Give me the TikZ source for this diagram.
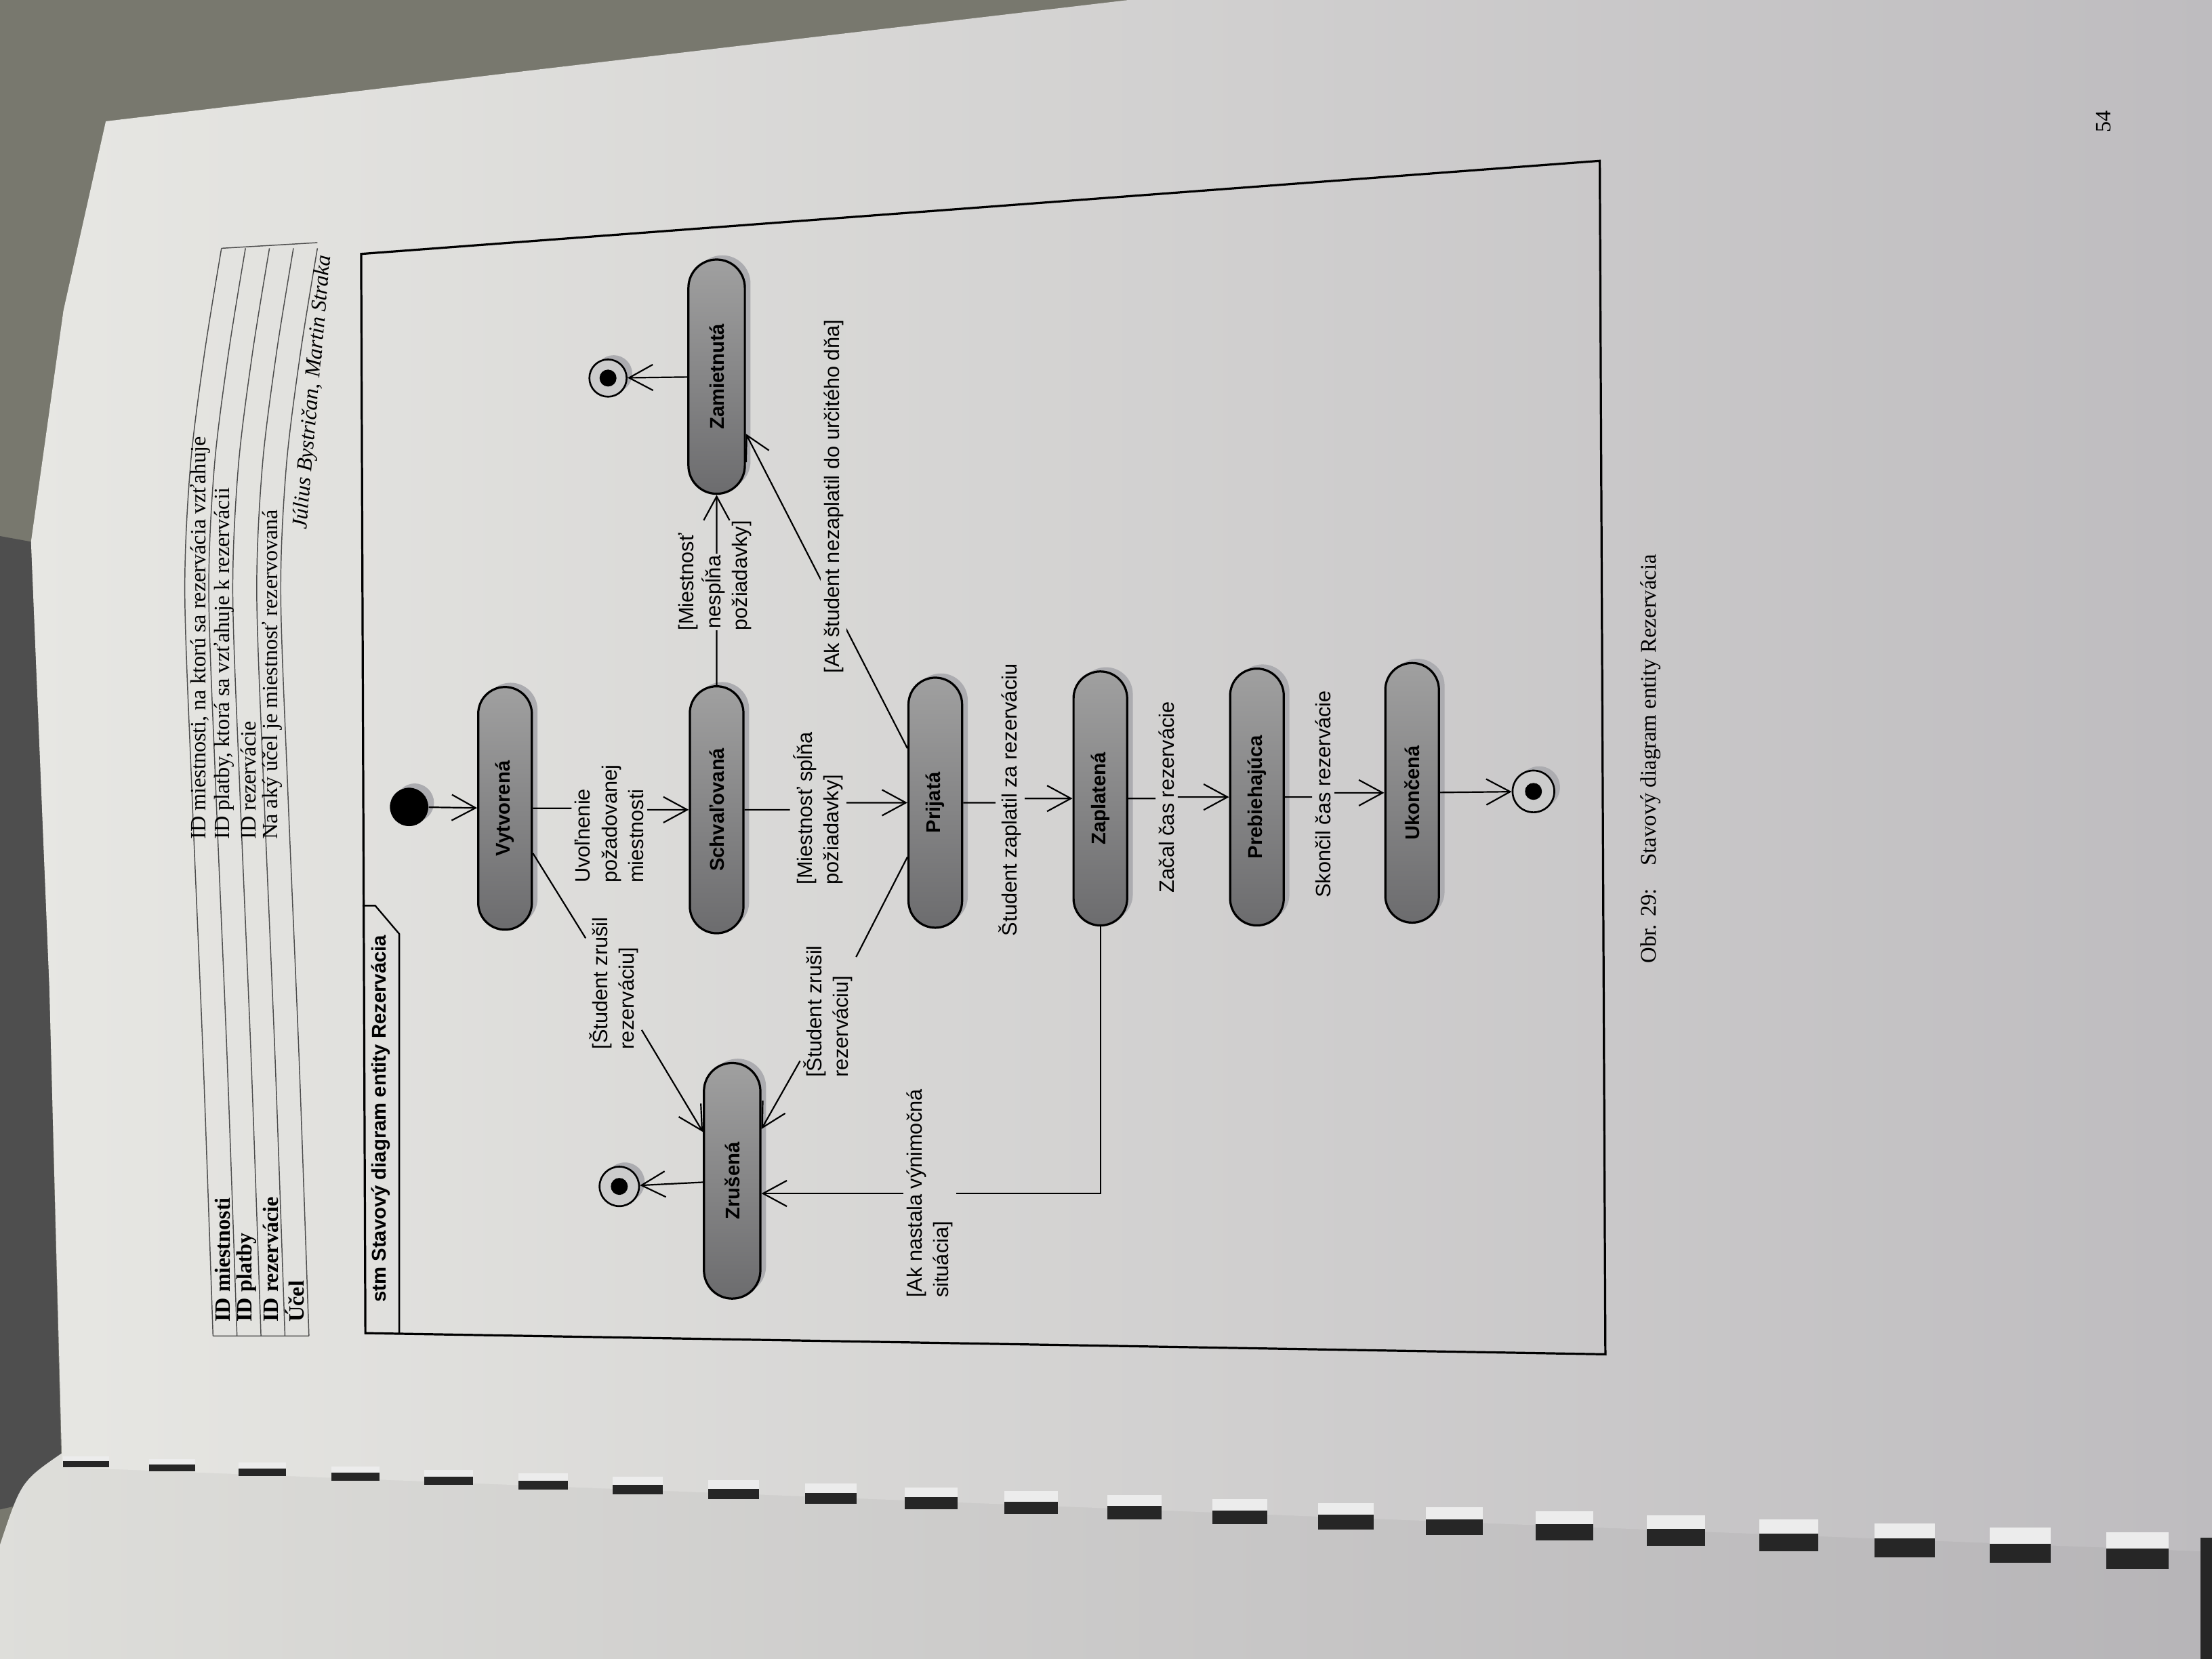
\documentclass[tikz,border=0pt]{standalone}
\usepackage{fontspec}
\setmainfont{Liberation Serif}
\newfontfamily\umlfont{Liberation Sans}
\usetikzlibrary{arrows.meta,shapes.misc,shadows}

\definecolor{carpet}{RGB}{120,120,110}
\definecolor{cover}{RGB}{78,78,78}
\definecolor{pageL}{RGB}{231,231,227}
\definecolor{pageR}{RGB}{190,188,191}
\definecolor{stateL}{RGB}{160,160,160}
\definecolor{stateD}{RGB}{108,108,110}
\definecolor{shade}{RGB}{172,172,176}
\colorlet{paperA}{pageR!32!pageL}
\colorlet{paperB}{pageR!38!pageL}
\setlength\fboxsep{1pt}

\begin{document}
\begin{tikzpicture}[x=0.025cm, y=-0.025cm,
  shad/.style={drop shadow={shadow xshift=0.1cm, shadow yshift=0.075cm, fill=shade, opacity=1}},
  stat/.style={rounded rectangle, draw, line width=1.1pt, rotate=90, minimum width=4.45cm,
    minimum height=0.95cm, inner sep=0pt, top color=stateL, bottom color=stateD, shad,
    font=\umlfont\bfseries\fontsize{10}{12}\selectfont},
  init/.style={circle, fill=black, minimum size=0.68cm, inner sep=0pt, shad},
  final/.style={circle, draw, line width=0.9pt, fill=gray!40, minimum size=0.7cm, inner sep=0pt, shad,
    path picture={\fill[black] (path picture bounding box.center) circle (0.15cm);}},
  lbl/.style={rotate=90, align=left, inner sep=1.5pt, font=\umlfont\fontsize{10.5}{13.5}\selectfont},
  arr/.style={-{Straight Barb[length=12pt,width=13pt]}},
  conn/.style={line width=0.75pt}]
\useasboundingbox (0,0) rectangle (1568,1176);

% photo: carpet, cover, pages, rings
\fill[carpet] (0,0) rectangle (1568,1176);
\fill[cover] (0,380) -- (22,384) -- (35,700) -- (44,1060) -- (0,1070) -- cycle;
\shade[left color=pageL!96!black, right color=pageR!96!black] (0,1095) .. controls (15,1050) .. (44,1030)
  -- (1568,1090) -- (1568,1176) -- (0,1176) -- cycle;
\shade[left color=pageL, right color=pageR] (75,86) -- (384,49) -- (800,0) -- (1568,0) -- (1568,1100)
  -- (44,1040) -- (35,700) -- (22,384) -- (45,220) -- cycle;
\foreach \rx in {61,122,186,252,318,385,452,520,589,660,731,804,879,954,1031,1109,1188,1268,1350,1432,1515} {
  \pgfmathsetmacro\ry{1030+\rx*0.037}
  \pgfmathsetmacro\rh{7+\rx*0.0125}
  \pgfmathsetmacro\rw{16+\rx*0.004}
  \fill[gray!15] (\rx-\rw,\ry) rectangle (\rx+\rw,\ry+\rh*0.45);
  \fill[black!85] (\rx-\rw,\ry+\rh*0.45) rectangle (\rx+\rw,\ry+\rh);
}
\fill[black!85] (1560,1090) rectangle (1568,1176);

% table at top of page
\foreach \k in {0,...,4}
  \draw[black!70, line width=0.5pt, shift={(\k*17,0)}] plot[smooth] coordinates
    {(151,947) (144,750) (136,560) (131,420) (135,330) (145,250) (157,176)};
\draw[black!70, line width=0.5pt] (151,947) -- (219,947) (157,176) -- (225,172);
\node[rotate=90, anchor=west, font=\bfseries\fontsize{11}{13}\selectfont] (r1) at (158,942) {ID miestnosti};
\node[rotate=90, anchor=west, font=\bfseries\fontsize{11}{13}\selectfont] (r2) at (175,942) {ID platby};
\node[rotate=90, anchor=west, font=\bfseries\fontsize{11}{13}\selectfont] (r3) at (192,942) {ID rezervácie};
\node[rotate=90, anchor=west, font=\bfseries\fontsize{11}{13}\selectfont] (r4) at (209,942) {Účel};
\node[rotate=90, anchor=west, font=\fontsize{11}{13}\selectfont] (v1) at (142,600) {ID miestnosti, na ktorú sa rezervácia vzťahuje};
\node[rotate=90, anchor=west, font=\fontsize{11}{13}\selectfont] (v2) at (159,600) {ID platby, ktorá sa vzťahuje k rezervácii};
\node[rotate=90, anchor=west, font=\fontsize{11}{13}\selectfont] (v3) at (176,600) {ID rezervácie};
\node[rotate=90, anchor=west, font=\fontsize{11}{13}\selectfont] (v4) at (193,600) {Na aký účel je miestnosť rezervovaná};
\node[rotate=85, font=\itshape\fontsize{11}{13}\selectfont] (autor) at (222,278) {Július Bystričan, Martin Straka};

% diagram frame
\draw[line width=1.1pt] (256,180) -- (1134,114) -- (1138,960) -- (259,945) -- cycle;
\draw[line width=0.8pt] (257,642) -- (266,642) -- (283,662) -- (283,945);
\node[rotate=90, font=\umlfont\bfseries\fontsize{10}{12}\selectfont] (nazov) at (270,793) {stm Stavový diagram entity Rezervácia};

% states
\node[init] (start) at (290,572) {};
\node[stat, minimum width=4.3cm] (vytv) at (358,573) {Vytvorená};
\node[stat, minimum width=4.375cm] (schv) at (508,574) {Schvaľovaná};
\node[stat, minimum width=4.175cm, minimum height=1cm] (zrus) at (519,837) {Zrušená};
\node[stat, minimum width=4.15cm, minimum height=1cm] (zam) at (508,267) {Zamietnutá};
\node[stat, minimum width=4.43cm] (prij) at (663,569) {Prijatá};
\node[stat, minimum width=4.5cm] (zapl) at (780,566) {Zaplatená};
\node[stat, minimum width=4.55cm] (preb) at (891,565) {Prebiehajúca};
\node[stat, minimum width=4.6cm] (ukon) at (1001,562) {Ukončená};
\node[final] (fin1) at (439,841) {};
\node[final, minimum size=0.66cm] (fin2) at (431,268) {};
\node[final, minimum size=0.74cm] (fin3) at (1087,561) {};

% transition labels
\node[lbl] (uvol) at (432,584) {Uvoľnenie\\požadovanej\\miestnosti};
\node[lbl] (splna) at (580,573) {[Miestnosť spĺňa\\požiadavky]};
\node[lbl] (zaplatil) at (716,567) {Študent zaplatil za rezerváciu};
\node[lbl] (zacal) at (827,565) {Začal čas rezervácie};
\node[lbl] (skoncil) at (938,563) {Skončil čas rezervácie};
\node[lbl] (zrusil1) at (435,697) {[Študent zrušil\\rezerváciu]};
\node[lbl] (zrusil2) at (587,717) {[Študent zrušil\\rezerváciu]};
\node[lbl] (vynim) at (659,846) {[Ak nastala výnimočná\\situácia]};

% transitions
\draw[conn, arr] (start) -- (vytv);
\draw[conn] (vytv) -- (vytv -| uvol.north);
\draw[conn, arr] (uvol.south |- schv) -- (schv);
\draw[conn] (schv) -- (schv -| splna.north);
\draw[conn, arr] (splna.south |- prij) -- (prij);
\draw[conn] (prij) -- (prij -| zaplatil.north);
\draw[conn, arr] (zaplatil.south |- zapl) -- (zapl);
\draw[conn] (zapl) -- (zapl -| zacal.north);
\draw[conn, arr] (zacal.south |- preb) -- (preb);
\draw[conn] (preb) -- (preb -| skoncil.north);
\draw[conn, arr] (skoncil.south |- ukon) -- (ukon);
\draw[conn, arr] (ukon) -- (fin3);
\draw[conn] (vytv) -- (zrusil1);
\draw[conn, arr] (zrusil1) -- (zrus);
\draw[conn] (prij) -- (zrusil2);
\draw[conn, arr] (zrusil2) -- (zrus);
\draw[conn] (zapl.west) |- (vynim);
\draw[conn, arr] (vynim) -- (vynim -| zrus.south);
\draw[conn, arr] (zrus) -- (fin1);
\draw[conn, arr] (schv) -- (zam);
\draw[conn, arr] (prij) -- (zam);
\draw[conn, arr] (zam) -- (fin2);
\node[lbl] (nesplna) at (507,408) {[Miestnosť\\\colorbox{paperA}{nespĺňa}\\požiadavky]};
\node[lbl, fill=paperB] (nezaplatil) at (591,352) {[Ak študent nezaplatil do určitého dňa]};

% caption and page number
\node[rotate=90, anchor=west, inner sep=0pt, font=\fontsize{11.2}{13}\selectfont] (obr) at (1170,683)
  {Obr. 29:\hspace{0.4cm}Stavový diagram entity Rezervácia};
\node[rotate=90, font=\fontsize{11}{13}\selectfont] (strana) at (1491,86) {54};
\end{tikzpicture}
\end{document}
